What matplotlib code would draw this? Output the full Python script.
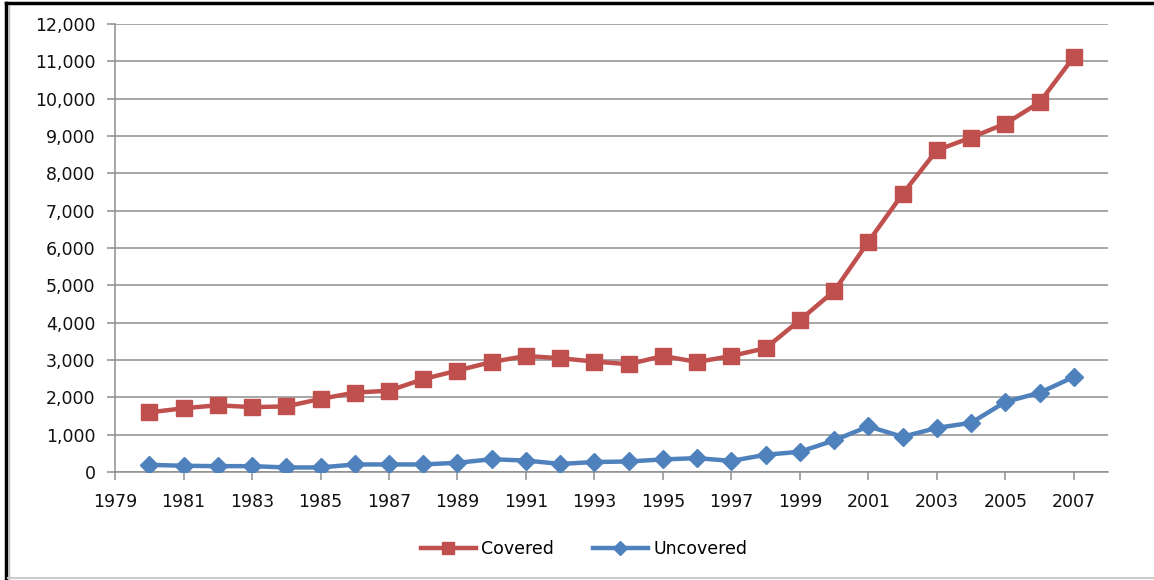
import matplotlib.pyplot as plt
from matplotlib.lines import Line2D
from matplotlib.ticker import FuncFormatter, FixedLocator, MultipleLocator

years = list(range(1980, 2008))
covered = [1600, 1710, 1790, 1740, 1760, 1960, 2130, 2180, 2490, 2720,
           2950, 3110, 3050, 2960, 2890, 3110, 2950, 3110, 3320, 4070,
           4850, 6170, 7450, 8620, 8960, 9330, 9900, 11120]
uncovered = [195, 170, 160, 160, 125, 125, 205, 205, 205, 250,
             345, 310, 220, 270, 285, 340, 375, 300, 465, 545,
             850, 1225, 945, 1185, 1320, 1880, 2125, 2550]
year_ticks = list(range(1979, 2008, 2))

red = '#C0504D'
blue = '#4F81BD'
grid = '#8E8E8E'

fig = plt.figure(figsize=(11.54, 5.80), dpi=100)
ax = fig.add_axes([0.0997, 0.186, 0.8605, 0.7726])

ax.plot(years, covered, color=red, lw=3.2, marker='s', markersize=12,
        markeredgecolor=red, label='Covered', zorder=3)
ax.plot(years, uncovered, color=blue, lw=3.2, marker='D', markersize=9.5,
        markeredgecolor=blue, label='Uncovered', zorder=3)

ax.set_xlim(1979, 2008)
ax.set_ylim(0, 12000)
ax.xaxis.set_major_locator(FixedLocator(year_ticks))
ax.yaxis.set_major_locator(MultipleLocator(1000))
ax.yaxis.set_major_formatter(FuncFormatter(lambda v, p: f'{int(v):,}'))

ax.grid(axis='y', color=grid, lw=1.1)
ax.set_axisbelow(True)
for s in ['top', 'right']:
    ax.spines[s].set_visible(False)
for s in ['left', 'bottom']:
    ax.spines[s].set_color(grid)
    ax.spines[s].set_linewidth(1.1)
ax.tick_params(axis='both', colors=grid, length=6, width=1.1,
               labelcolor='#111111', labelsize=12.5)
ax.tick_params(axis='x', pad=9)
ax.tick_params(axis='y', pad=8)

fig.legend(loc='center', bbox_to_anchor=(584 / 1154, 1 - 549 / 580), ncol=2,
           frameon=False, fontsize=12.5, handlelength=3.2, handletextpad=0.3,
           columnspacing=2.2, markerscale=0.75)

# frame around the figure
fig.add_artist(Line2D([0.005, 1], [0.994, 0.994], color='black', lw=2.5,
                      transform=fig.transFigure))
fig.add_artist(Line2D([0.0052, 0.0052], [0, 0.994], color='black', lw=2.5,
                      transform=fig.transFigure))
fig.add_artist(Line2D([0.0075, 0.0075], [0, 0.99], color='#BBBBBB', lw=1,
                      transform=fig.transFigure))
fig.add_artist(Line2D([0.007, 1], [0.003, 0.003], color='#CCCCCC', lw=1.5,
                      transform=fig.transFigure))

fig.savefig('out.png', dpi=100)
